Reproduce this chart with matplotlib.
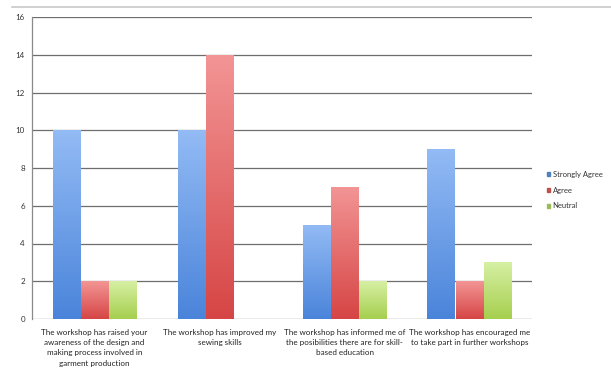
import numpy as np
import matplotlib
matplotlib.use("Agg")
import matplotlib.pyplot as plt
from matplotlib.colors import LinearSegmentedColormap
from matplotlib.lines import Line2D

categories = [
    "The workshop has raised your\nawareness of the design and\nmaking process involved in\ngarment production",
    "The workshop has improved my\nsewing skills",
    "The workshop has informed me of\nthe posibilities there are for skill-\nbased education",
    "The workshop has encouraged me\nto take part in further workshops",
]
series_names = ["Strongly Agree", "Agree", "Neutral"]
strongly_agree = [10, 10, 5, 9]
agree = [2, 14, 7, 2]
neutral = [2, 0, 2, 3]
y_ticks = [0, 2, 4, 6, 8, 10, 12, 14, 16]

# (top colour, bottom colour, legend swatch)
palettes = [
    ("#93bbf5", "#4a84da", "#4f81bd"),
    ("#f39595", "#d64545", "#c0504d"),
    ("#d6f0a4", "#a6cf4e", "#9bbb59"),
]

plt.rcParams["font.family"] = ["Lato", "DejaVu Sans"]

fig = plt.figure(figsize=(6.11, 3.68), dpi=100)
ax = fig.add_axes([32 / 611, 1 - 319 / 368, 500 / 611, 302 / 368])

x = np.arange(len(categories))
width = 0.224
values = [strongly_agree, agree, neutral]

grad = np.linspace(0, 1, 256).reshape(-1, 1)
for i, (vals, (top, bot, sw)) in enumerate(zip(values, palettes)):
    cmap = LinearSegmentedColormap.from_list(f"g{i}", [bot, top])
    offs = (i - 1) * width
    bars = ax.bar(x + offs, vals, width, color=top, linewidth=0, zorder=2,
                  label=series_names[i])
    for b in bars:
        h = b.get_height()
        if h <= 0:
            continue
        b.set_facecolor("none")
        x0 = b.get_x()
        im = ax.imshow(grad, cmap=cmap, origin="lower", aspect="auto",
                       extent=[x0, x0 + b.get_width(), 0, h], zorder=2)
        im.set_clip_path(b)

ax.set_xlim(-0.5, len(categories) - 0.5)
ax.set_ylim(0, 16)
ax.set_yticks(y_ticks)
ax.set_yticklabels([str(t) for t in y_ticks], fontsize=5.8, color="#333333")
ax.set_xticks(x)
ax.set_xticklabels(categories, fontsize=5.8, color="#222222", linespacing=1.55,
                   va="top")
ax.tick_params(axis="both", length=0, pad=5)
ax.tick_params(axis="x", pad=7)

ax.yaxis.grid(True, color="#6e6e6e", linewidth=0.9, zorder=1)
ax.set_axisbelow(True)
for side in ["top", "right", "bottom"]:
    ax.spines[side].set_visible(False)
ax.spines["left"].set_color("#8a8a8a")
ax.spines["left"].set_linewidth(0.9)

# legend
handles = [plt.Rectangle((0, 0), 1, 1, color=p[2]) for p in palettes]
leg = fig.legend(handles, series_names, loc="upper left",
                 bbox_to_anchor=(540 / 611, 1 - 164 / 368), frameon=False,
                 fontsize=5.5, handlelength=0.45, handleheight=0.45,
                 handletextpad=0.3, labelspacing=1.15)
for t in leg.get_texts():
    t.set_color("#333333")

# thin rule along the top of the frame
fig.add_artist(Line2D([12 / 611, 1.0], [1 - 7 / 368, 1 - 7 / 368],
                      color="#c8c8c8", linewidth=1.2))

fig.savefig("out.png", dpi=100)
